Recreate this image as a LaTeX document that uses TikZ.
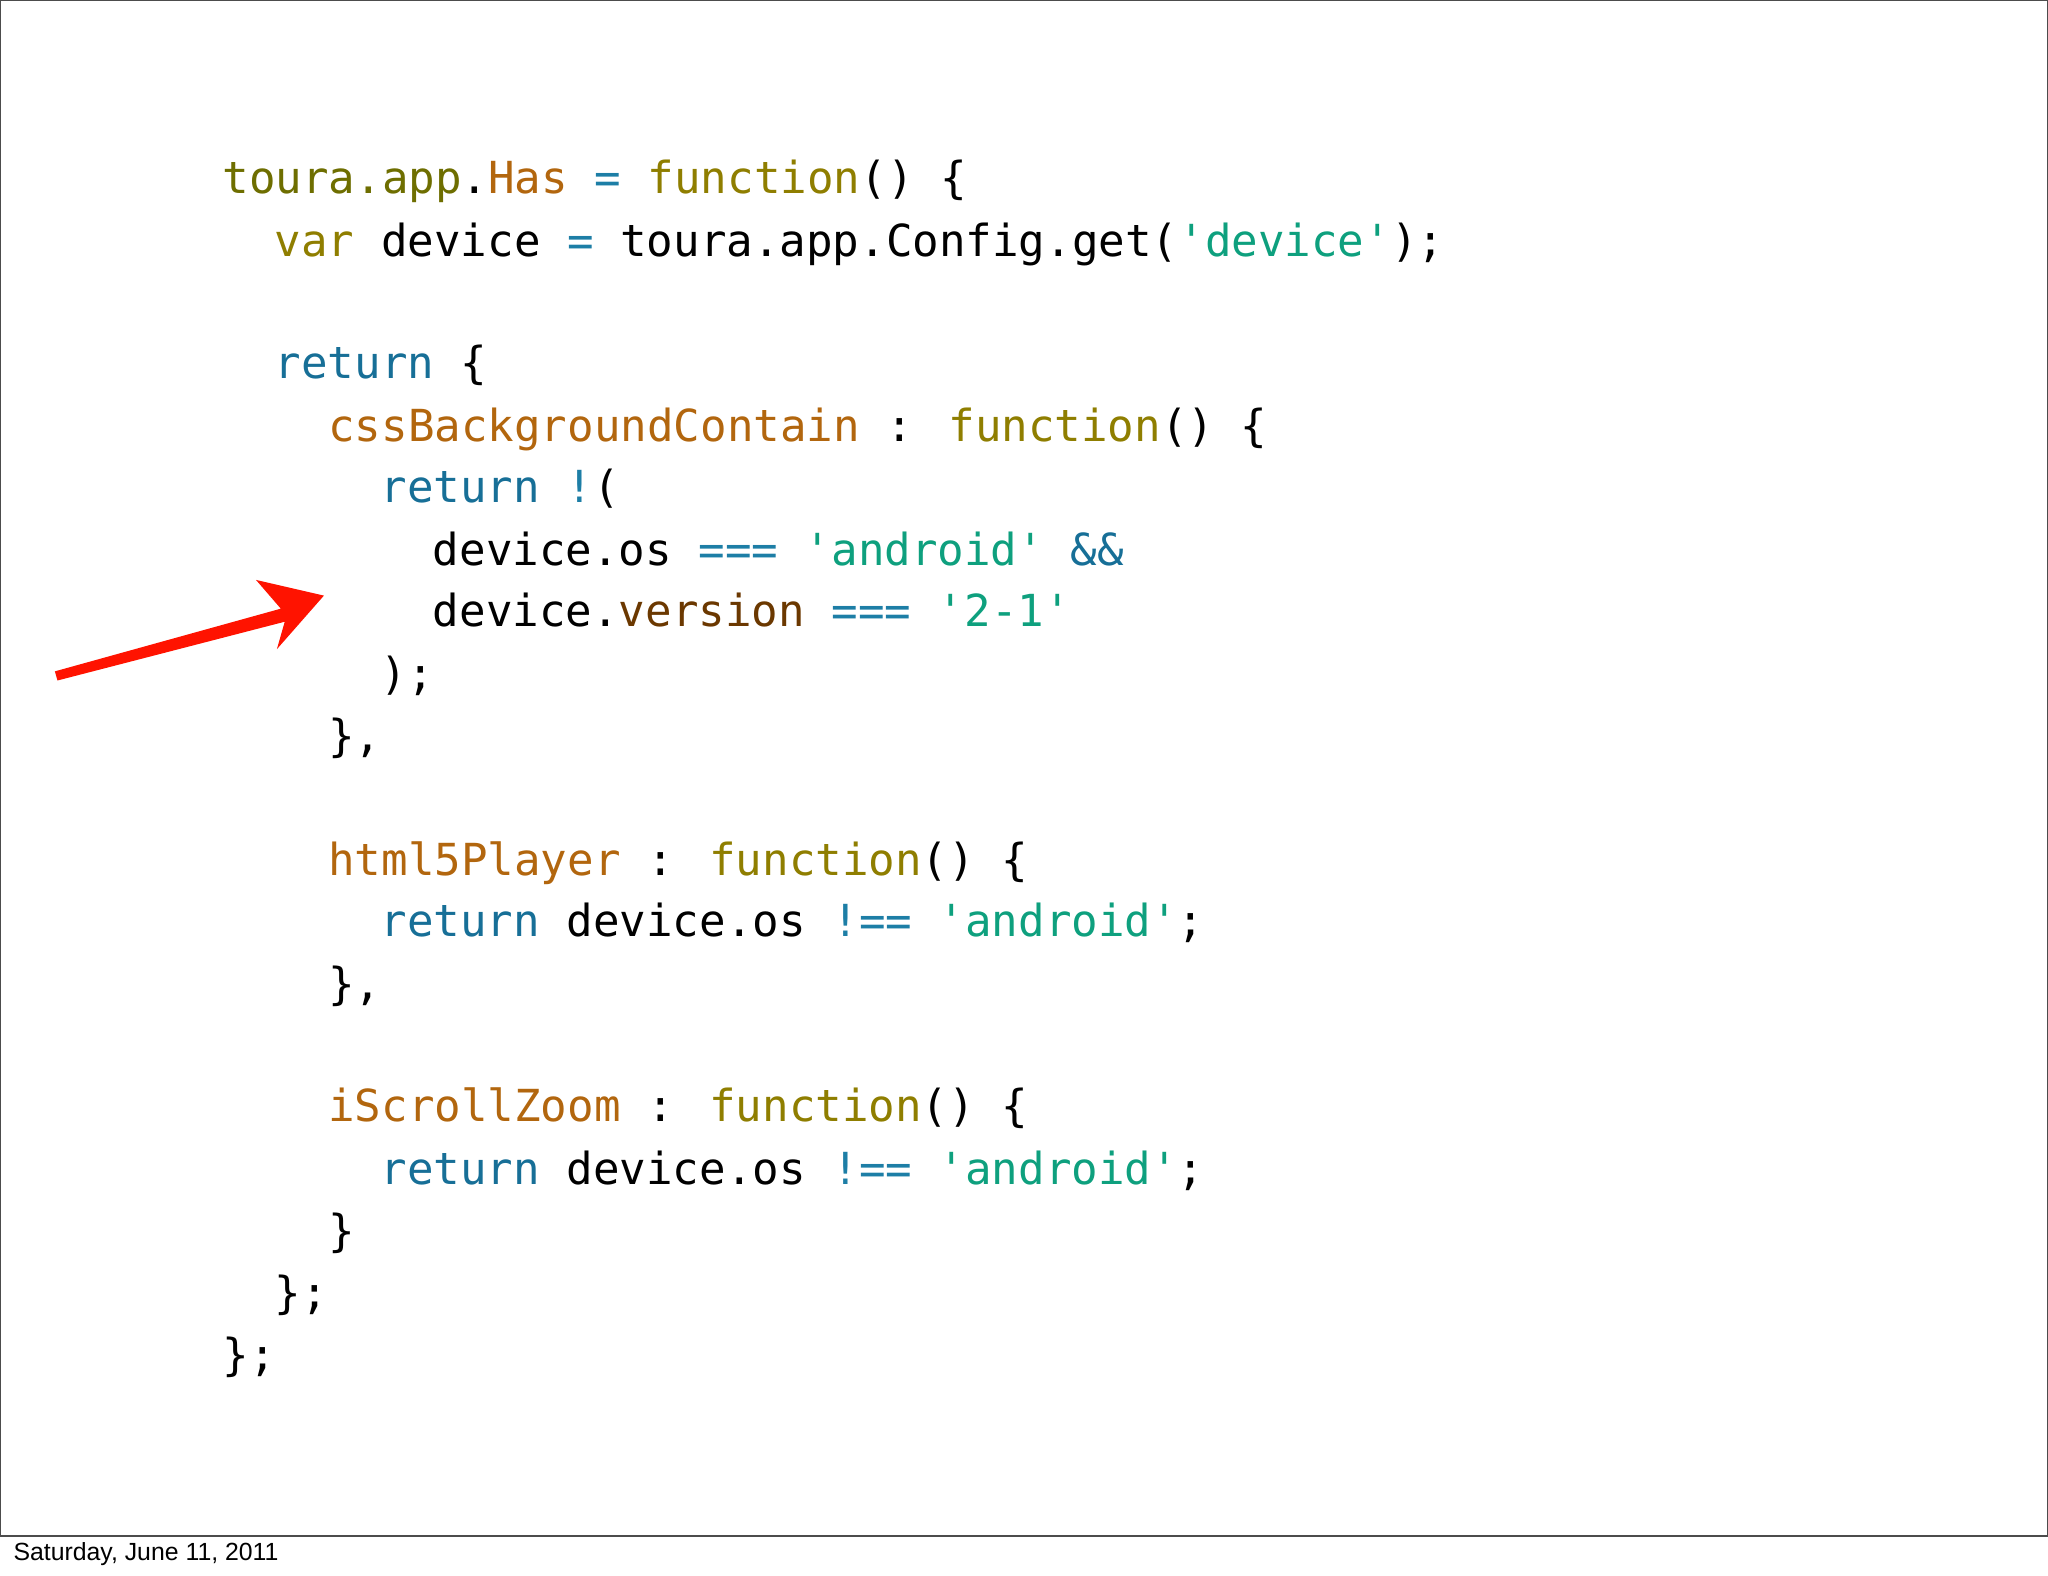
\documentclass[tikz,border=0pt]{standalone}
\usepackage{fontspec}
\setmainfont{Liberation Sans}
\newfontfamily\code[Ligatures=NoCommon]{DejaVu Sans Mono}
\definecolor{ol}{HTML}{6E6E00}
\definecolor{fn}{HTML}{8F7E00}
\definecolor{pr}{HTML}{B2660E}
\definecolor{op}{HTML}{1D7EA6}
\definecolor{kw}{HTML}{176F97}
\definecolor{st}{HTML}{0EA07E}
\definecolor{br}{HTML}{6B3800}
\newcommand{\q}{{\char"0027}}
\newcommand{\cO}[1]{\textcolor{ol}{#1}}
\newcommand{\cF}[1]{\textcolor{fn}{#1}}
\newcommand{\cP}[1]{\textcolor{pr}{#1}}
\newcommand{\cE}[1]{\textcolor{op}{#1}}
\newcommand{\cK}[1]{\textcolor{kw}{#1}}
\newcommand{\cS}[1]{\textcolor{st}{#1}}
\newcommand{\cB}[1]{\textcolor{br}{#1}}
\begin{document}
\begin{tikzpicture}[x=0.5pt,y=-0.5pt,
  ln/.style={anchor=base west,inner sep=0pt,font=\code\fontsize{16.9}{20}\selectfont}]
\useasboundingbox (0,0) rectangle (1568,1206);
\fill[white] (0,0) rectangle (1568,1206);
\draw[line width=0.6pt,black!70] (0.5,0.5) rectangle (1567.5,1176);
\node[anchor=west,inner sep=0pt,font=\fontsize{9.5}{11}\selectfont] (foot) at (10,1190) {Saturday, June 11, 2011};
\node[ln] (l1) at (170,148) {\cO{toura.app}.\cP{Has} \cE{=} \cF{function}() \{};
\node[ln] (l2) at (210,196) {\cF{var} device \cE{=} toura.app.Config.get(\cS{\q device\q});};
\node[ln] (l3) at (210,290) {\cK{return} \{};
\node[ln] (l4) at (251,338) {\cP{cssBackgroundContain} : \cF{function}() \{};
\node[ln] (l5) at (291,385) {\cK{return} \cE{!}(};
\node[ln] (l6) at (331,433) {device.os \cE{===} \cS{\q android\q} \cK{\&\&}};
\node[ln] (l7) at (331,480) {device.\cB{version} \cE{===} \cS{\q 2-1\q}};
\node[ln] (l8) at (291,528) {);};
\node[ln] (l9) at (251,575) {\},};
\node[ln] (l10) at (251,670) {\cP{html5Player} : \cF{function}() \{};
\node[ln] (l11) at (291,717) {\cK{return} device.os \cE{!==} \cS{\q android\q};};
\node[ln] (l12) at (251,765) {\},};
\node[ln] (l13) at (251,859) {\cP{iScrollZoom} : \cF{function}() \{};
\node[ln] (l14) at (291,907) {\cK{return} device.os \cE{!==} \cS{\q android\q};};
\node[ln] (l15) at (251,954) {\}};
\node[ln] (l16) at (210,1002) {\};};
\node[ln] (l17) at (170,1049) {\};};
\fill[red!85!orange] (42,514) -- (215,466) -- (196,444) -- (248,456) -- (212,497) -- (218,476) -- (44,521) -- cycle;
\end{tikzpicture}
\end{document}
